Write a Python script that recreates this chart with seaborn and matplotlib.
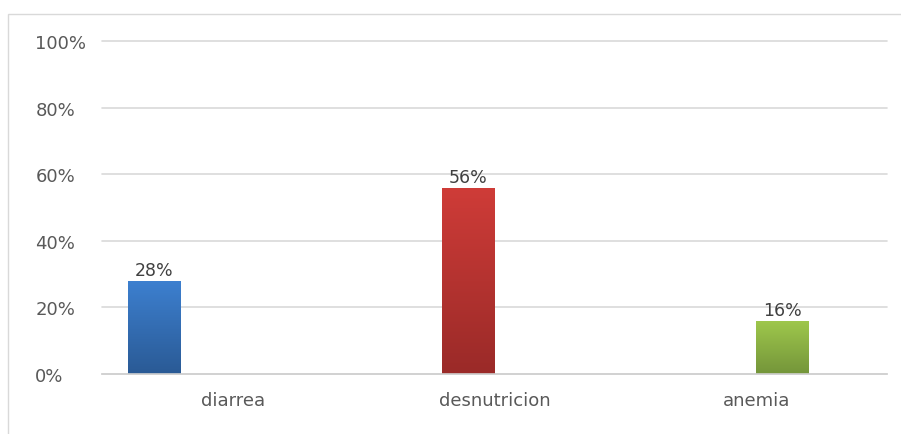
import numpy as np
import pandas as pd
import matplotlib
matplotlib.use("Agg")
import matplotlib.pyplot as plt
import matplotlib.colors as mcolors
from matplotlib.patches import Rectangle
import seaborn as sns

# ---- data ----
categories = ["diarrea", "desnutricion", "anemia"]
series = ["diarrea", "desnutricion", "anemia", "serie4"]
values = [0.28, 0.56, 0.16]
y_ticks = [0.0, 0.2, 0.4, 0.6, 0.8, 1.0]
y_tick_labels = ["0%", "20%", "40%", "60%", "80%", "100%"]

top_colors = ["#3d80d0", "#cf3c38", "#9fc84c", "#f79646"]
bottom_colors = ["#2a5a95", "#9a2a28", "#74953a", "#c06020"]

df = pd.DataFrame({"categoria": categories, "serie": series[:3], "valor": values})

sns.set_theme(style="white")
plt.rcParams["font.family"] = ["DejaVu Sans"]

fig = plt.figure(figsize=(9.01, 4.35), dpi=100)
ax = fig.add_axes([102 / 901, 1 - 375 / 435, (887 - 102) / 901, (375 - 42) / 435])

sns.barplot(data=df, x="categoria", y="valor", hue="serie", order=categories,
            hue_order=series, palette=top_colors, width=0.8, dodge=True,
            legend=False, ax=ax, saturation=1, linewidth=0)

ax.set_ylim(0, 1.0)
ax.set_xlim(-0.5, len(categories) - 0.5)

# gradient fill on bars
for cont, top, bot in zip(ax.containers, top_colors, bottom_colors):
    cmap = mcolors.LinearSegmentedColormap.from_list("g", [bot, top])
    grad = np.linspace(0, 1, 256).reshape(-1, 1)
    for p in cont.patches:
        if np.isnan(p.get_height()) or p.get_height() == 0:
            continue
        x0, y0, w, h = p.get_x(), p.get_y(), p.get_width(), p.get_height()
        im = ax.imshow(grad, extent=[x0, x0 + w, y0, y0 + h], origin="lower",
                       cmap=cmap, aspect="auto", zorder=p.get_zorder() + 0.1,
                       interpolation="bilinear")
        im.set_clip_path(p)
    ax.bar_label(cont, labels=[("" if (np.isnan(p.get_height()) or p.get_height() == 0)
                                else f"{p.get_height() * 100:.0f}%") for p in cont.patches],
                 padding=1, fontsize=12.5, color="#404040")

ax.set_xlim(-0.5, len(categories) - 0.5)
ax.set_ylim(0, 1.0)

ax.set_yticks(y_ticks)
ax.set_yticklabels(y_tick_labels)
ax.yaxis.grid(True, color="#d9d9d9", linewidth=1.2)
for gl in ax.get_ygridlines():
    gl.set_clip_on(False)
ax.set_axisbelow(True)
for s in ["top", "right", "left"]:
    ax.spines[s].set_visible(False)
ax.spines["bottom"].set_color("#d0d0d0")
ax.spines["bottom"].set_linewidth(1.2)

ax.tick_params(axis="y", length=0, pad=48, labelsize=13, labelcolor="#595959")
for lab in ax.get_yticklabels():
    lab.set_horizontalalignment("left")
ax.tick_params(axis="x", length=0, pad=12, labelsize=13, labelcolor="#595959")
ax.set_xlabel("")
ax.set_ylabel("")

# chart border (top and left visible)
fig.patches.append(Rectangle((8 / 901, -0.1), 1.2, 1 - 15 / 435 + 0.1,
                             transform=fig.transFigure, fill=False,
                             edgecolor="#d9d9d9", linewidth=1.0))

fig.savefig("out.png", dpi=100)
